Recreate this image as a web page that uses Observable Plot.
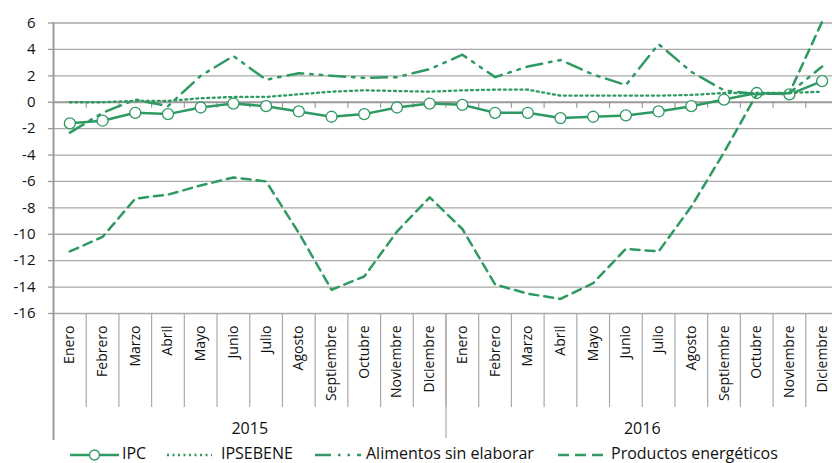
<!DOCTYPE html>
<html>
<head>
<meta charset="utf-8">
<script src="https://cdn.jsdelivr.net/npm/d3@7"></script>
<script src="https://cdn.jsdelivr.net/npm/@observablehq/plot@0.6"></script>
<style>
  html, body { margin: 0; padding: 0; background: #fff; overflow: hidden; }
  #chart { width: 832px; height: 440px; }
  #legend { position: relative; width: 832px; height: 23px; font-family: "Open Sans", sans-serif; font-size: 16px; color: #111; overflow: visible; }
  #legend .sw { position: absolute; top: 8px; }
  #legend .tx { position: absolute; top: 3px; line-height: 20px; white-space: nowrap; }
</style>
</head>
<body>
<div id="chart"></div>
<div id="legend"></div>
<script>
const months = ["Enero","Febrero","Marzo","Abril","Mayo","Junio","Julio","Agosto","Septiembre","Octubre","Noviembre","Diciembre"];
const years = ["2015","2016"];
const yTicks = [-16,-14,-12,-10,-8,-6,-4,-2,0,2,4,6];

const ipc       = [-1.6,-1.4,-0.8,-0.9,-0.4,-0.1,-0.3,-0.7,-1.1,-0.9,-0.4,-0.1, -0.2,-0.8,-0.8,-1.2,-1.1,-1.0,-0.7,-0.3,0.2,0.7,0.6,1.6];
const ipsebene  = [0.0,0.0,0.1,0.1,0.3,0.4,0.4,0.6,0.8,0.9,0.85,0.8, 0.9,0.95,0.95,0.5,0.5,0.5,0.5,0.55,0.7,0.7,0.7,0.8];
const alimentos = [-2.3,-0.8,0.2,-0.3,2.0,3.5,1.7,2.2,2.0,1.85,1.9,2.5, 3.6,1.9,2.7,3.2,2.1,1.3,4.4,2.3,0.9,0.6,0.7,2.7];
const energia   = [-11.3,-10.2,-7.3,-7.0,-6.3,-5.7,-6.0,-9.9,-14.2,-13.2,-9.8,-7.2, -9.6,-13.8,-14.5,-14.9,-13.7,-11.1,-11.3,-7.9,-3.8,0.6,0.7,6.1];

const green = "#2e9a62";
const gridC = "#a9a9a9";
const axisC = "#9a9a9a";

const labels = years.flatMap(() => months);
const n = labels.length;
const idx = (d, i) => i;
const seps = d3.range(1, n).map(k => k - 0.5);
const yearSeps = years.slice(1).map((y, k) => (k + 1) * months.length - 0.5);

const chart = Plot.plot({
  width: 832,
  height: 440,
  marginLeft: 53,
  marginRight: -6,
  marginTop: 22.5,
  marginBottom: 127,
  style: { fontFamily: "'Open Sans', sans-serif", background: "#fff", color: "#111" },
  x: { domain: [-0.5, n - 0.5], axis: null },
  y: { domain: [-16, 6], axis: null },
  marks: [
    Plot.ruleY(yTicks.filter(v => v !== 0), { stroke: gridC, strokeWidth: 1.3 }),
    Plot.axisY({ ticks: yTicks, tickSize: 5, tickPadding: 13, tickFormat: d => String(d), fontSize: 15, stroke: axisC, strokeWidth: 1.3, fill: "#111" }),
    Plot.ruleX(seps, { y1: 0, y2: 0, insetBottom: -6, stroke: axisC, strokeWidth: 1.2 }),
    Plot.ruleY([0], { stroke: axisC, strokeWidth: 2 }),
    Plot.ruleX(seps, { y1: -16, y2: -16, insetBottom: -94, stroke: gridC, strokeWidth: 1.2 }),
    Plot.ruleX(yearSeps, { y1: -16, y2: -16, insetBottom: -125, stroke: gridC, strokeWidth: 1.2 }),
    Plot.ruleX([-0.5], { y1: 6, y2: -16, insetBottom: -127, stroke: axisC, strokeWidth: 2 }),
    Plot.text(labels, { x: idx, y: -16, text: d => d, rotate: -90, textAnchor: "end", lineAnchor: "middle", dy: 12, fontSize: 14, fill: "#111" }),
    Plot.text(years, { x: (d, i) => i * months.length + (months.length - 1) / 2, y: -16, text: d => d, dy: 115, fontSize: 16, fill: "#111" }),
    Plot.line(ipc, { x: idx, y: d => d, stroke: green, strokeWidth: 2.5 }),
    Plot.dot(ipc, { x: idx, y: d => d, r: 5.5, stroke: green, strokeWidth: 1.3, fill: "#fff" }),
    Plot.line(ipsebene, { x: idx, y: d => d, stroke: green, strokeWidth: 2.3, strokeDasharray: "2,3.5" }),
    Plot.line(alimentos, { x: idx, y: d => d, stroke: green, strokeWidth: 2.5, strokeDasharray: "16,7,2.5,7,2.5,7" }),
    Plot.line(energia, { x: idx, y: d => d, stroke: green, strokeWidth: 2.5, strokeDasharray: "9,6" })
  ]
});
document.getElementById("chart").appendChild(chart);

const legendItems = [
  { name: "IPC", sw: 70, w: 49, tx: 122, dash: null, marker: true, sw2: 2.5 },
  { name: "IPSEBENE", sw: 167, w: 45, tx: 221, dash: "2,3.5", marker: false, sw2: 2.3 },
  { name: "Alimentos sin elaborar", sw: 315, w: 46, tx: 366, dash: "16,7,2.5,7,2.5,7", marker: false, sw2: 2.5 },
  { name: "Productos energéticos", sw: 558, w: 50, tx: 611, dash: "11,6", marker: false, sw2: 2.5 }
];
const lg = document.getElementById("legend");
for (const it of legendItems) {
  const s = document.createElementNS("http://www.w3.org/2000/svg", "svg");
  s.setAttribute("class", "sw");
  s.setAttribute("width", it.w);
  s.setAttribute("height", 14);
  s.style.left = it.sw + "px";
  let inner = `<line x1="0" x2="${it.w}" y1="7" y2="7" stroke="${green}" stroke-width="${it.sw2}"${it.dash ? ` stroke-dasharray="${it.dash}"` : ""}/>`;
  if (it.marker) inner += `<circle cx="${it.w / 2}" cy="7" r="5" fill="#fff" stroke="${green}" stroke-width="1.3"/>`;
  s.innerHTML = inner;
  lg.appendChild(s);
  const t = document.createElement("span");
  t.className = "tx";
  t.style.left = it.tx + "px";
  t.textContent = it.name;
  lg.appendChild(t);
}
</script>
</body>
</html>
